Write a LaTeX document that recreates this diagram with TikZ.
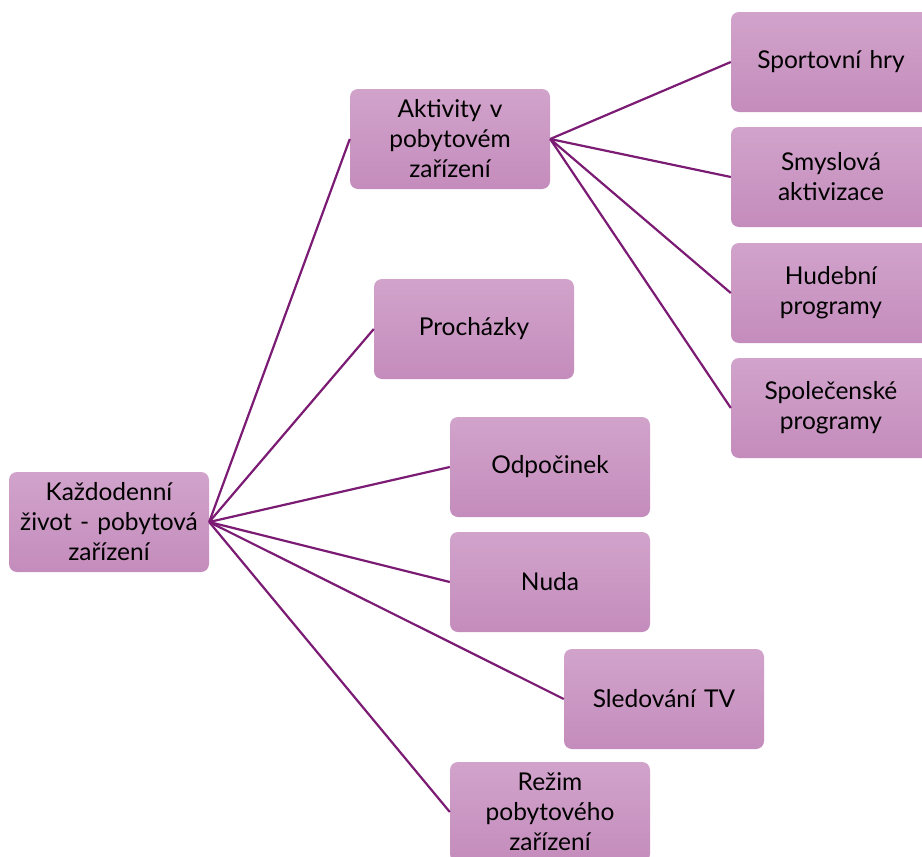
\documentclass[tikz,border=0pt]{standalone}
\usepackage{fontspec}
\setmainfont{Lato}
\usepackage{xcolor}
\usepackage{tikz}
\definecolor{boxtop}{HTML}{D1A3CB}
\definecolor{boxbot}{HTML}{C48CBC}
\definecolor{linkcol}{HTML}{7B1B73}
\tikzset{box/.style={rectangle, rounded corners=8pt,
         minimum width=200pt, minimum height=100pt,
         top color=boxtop, bottom color=boxbot, draw=none,
         inner sep=2pt, text width=196pt, align=center,
         font=\fontsize{24.5}{30}\selectfont},
         link/.style={draw=linkcol, line width=2.2pt}}

\begin{document}
\begin{tikzpicture}[x=1pt, y=-1pt]
\clip (0,0) rectangle (922,857);
\fill[white] (0,0) rectangle (922,857);
% levels
\node[box] (root) at (109,522) {Každodenní\\ život - pobytová\\ zařízení};
\node[box] (akt) at (450,139) {Aktivity v\\ pobytovém\\ zařízení};
\node[box] (proch) at (474,329) {Procházky};
\node[box] (odp) at (550,467) {Odpočinek};
\node[box] (nuda) at (550,582) {Nuda};
\node[box] (tv) at (664,699) {Sledování TV};
\node[box] (rezim) at (550,812) {Režim\\ pobytového\\ zařízení};
\node[box] (sport) at (831,62) {Sportovní hry};
\node[box] (smysl) at (831,177) {Smyslová\\ aktivizace};
\node[box] (hud) at (831,293) {Hudební\\ programy};
\node[box] (spol) at (831,408) {Společenské\\ programy};
% links
\draw[link] (root.east) -- (akt.west);
\draw[link] (root.east) -- (proch.west);
\draw[link] (root.east) -- (odp.west);
\draw[link] (root.east) -- (nuda.west);
\draw[link] (root.east) -- (tv.west);
\draw[link] (root.east) -- (rezim.west);
\draw[link] (akt.east) -- (sport.west);
\draw[link] (akt.east) -- (smysl.west);
\draw[link] (akt.east) -- (hud.west);
\draw[link] (akt.east) -- (spol.west);
\end{tikzpicture}
\end{document}
